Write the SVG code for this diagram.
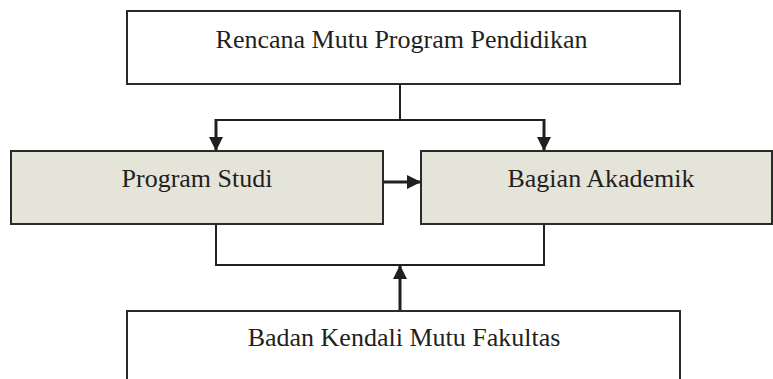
<svg xmlns="http://www.w3.org/2000/svg" width="773" height="379" viewBox="0 0 773 379">
  <style>
    .box { stroke: #2b2a2a; stroke-width: 2; }
    .plain { fill: #ffffff; }
    .unit { fill: #e5e4d9; }
    .label { font-family: "Liberation Serif", "Times New Roman", serif; font-size: 26px; fill: #231f20; text-anchor: middle; }
    .wire { fill: none; stroke: #231f20; stroke-width: 2; }
    .flow { fill: none; stroke: #231f20; stroke-width: 3; }
  </style>
  <defs>
    <marker id="head" viewBox="0 0 14 14" refX="14" refY="7" markerWidth="14" markerHeight="14" markerUnits="userSpaceOnUse" orient="auto">
      <path d="M0,0 L14,7 L0,14 Z" fill="#231f20"/>
    </marker>
  </defs>
  <rect width="773" height="379" fill="#ffffff"/>

  <g id="connectors">
    <!-- plan splits to both units -->
    <path class="wire" d="M400,84 V120 M216,120 H544"/>
    <path class="flow" d="M216,119 V151" marker-end="url(#head)"/>
    <path class="flow" d="M544,119 V151" marker-end="url(#head)"/>
    <!-- study programme to academic section -->
    <path class="flow" d="M383,182 H421" marker-end="url(#head)"/>
    <!-- both units joined below -->
    <path class="wire" d="M216,224 V265 H544 V224"/>
    <!-- faculty quality control feeds back -->
    <path class="flow" d="M400,311 V265" marker-end="url(#head)"/>
  </g>

  <g id="rencana-mutu">
    <rect class="box plain" x="127" y="11" width="553" height="73"/>
    <text class="label" x="401.5" y="48">Rencana Mutu Program Pendidikan</text>
  </g>

  <g id="program-studi">
    <rect class="box unit" x="11" y="151" width="372" height="73"/>
    <text class="label" x="197" y="187">Program Studi</text>
  </g>

  <g id="bagian-akademik">
    <rect class="box unit" x="421" y="151" width="351" height="73"/>
    <text class="label" x="601" y="187">Bagian Akademik</text>
  </g>

  <g id="badan-kendali-mutu">
    <rect class="box plain" x="127" y="311" width="553" height="80"/>
    <text class="label" x="404" y="346">Badan Kendali Mutu Fakultas</text>
  </g>
</svg>
